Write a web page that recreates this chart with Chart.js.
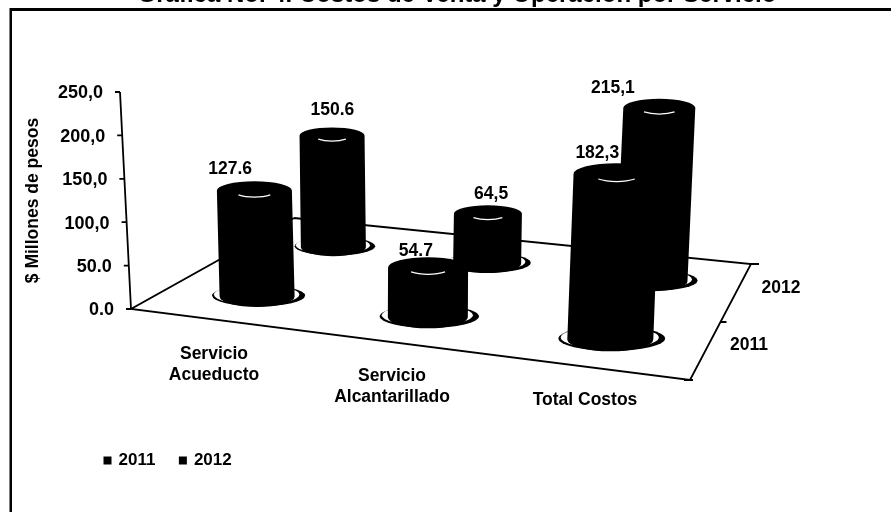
<!DOCTYPE html>
<html>
<head>
<meta charset="utf-8">
<style>html,body{margin:0;padding:0;background:#fff}canvas{display:block}</style>
<script src="https://cdn.jsdelivr.net/npm/chart.js@4"></script>
</head>
<body>
<div style="width:891px;height:512px"><canvas id="c" width="891" height="512"></canvas></div>
<script>
const categories = [['Servicio','Acueducto'],['Servicio','Alcantarillado'],'Total Costos'];
const values2011 = [127.6, 54.7, 182.3];
const values2012 = [150.6, 64.5, 215.1];
const valueText2011 = ['127.6','54.7','182,3'];
const valueText2012 = ['150.6','64,5','215,1'];
const seriesNames = ['2011','2012'];
const yTickLabels = ['0.0','50.0','100,0','150,0','200,0','250,0'];
const titleText = 'Gráfica No. 4. Costos de Venta y Operación por Servicio';
const yTitle = '$ Millones de pesos';

// projection of the 3D floor (layout only)
const floorFR = [559, 71], floorBR = [620, -45], floorBL = [163, -91];
const catU = [0.16, 0.48, 0.822], serV = [0.25, 0.77];
const depthScale = [[0.957, 1.054, 1.046], [0.854, 0.892, 0.93]];
const radii = [[37.5, 40, 43], [32.5, 34, 36]];
const axisLean = 11;
const labelShift = [[[-27,-21],[-12,-16],[-13,-21]], [[-1,-25],[4,-19.5],[-38.5,-20]]];
const xLabelPos = [[214,344],[392,366],[585,390]];
const depthLabelPos = [[749,345],[781,288]];
const FONT = '"Liberation Sans", Arial, sans-serif';

function floorPoint(area, zero, u, v) {
  const o = [area.left, zero];
  const fl = o, fr = [o[0]+floorFR[0], o[1]+floorFR[1]], br = [o[0]+floorBR[0], o[1]+floorBR[1]], bl = [o[0]+floorBL[0], o[1]+floorBL[1]];
  const fx = fl[0]+(fr[0]-fl[0])*u, fy = fl[1]+(fr[1]-fl[1])*u;
  const bx = bl[0]+(br[0]-bl[0])*u, by = bl[1]+(br[1]-bl[1])*u;
  return { x: fx+(bx-fx)*v, y: fy+(by-fy)*v };
}

function drawCylinder(ctx) {
  const rx = this.width/2, ry = rx*0.25, x = this.x, b = this.base, t = this.y;
  const lean = (x-400)*1.8e-4*(b-t);
  ctx.save();
  ctx.fillStyle = '#000';
  ctx.beginPath(); ctx.ellipse(x+1.5, b-1, rx*1.24, ry*1.15, 0, 0, Math.PI*2); ctx.fill();
  ctx.fillStyle = '#fff';
  ctx.beginPath(); ctx.ellipse(x-0.5, b-2, rx*1.14, ry*1.05, 0, 0, Math.PI*2); ctx.fill();
  ctx.fillStyle = '#000';
  ctx.beginPath();
  ctx.ellipse(x+lean, t, rx, ry, 0, Math.PI, Math.PI*2);
  ctx.lineTo(x+rx, b);
  ctx.ellipse(x, b, rx, ry*1.1, 0, 0, Math.PI);
  ctx.closePath();
  ctx.fill();
  ctx.strokeStyle = '#fff';
  ctx.lineWidth = 1.2;
  ctx.beginPath();
  ctx.ellipse(x+lean, t-1, rx*0.6, ry*0.8, 0, Math.PI*0.25, Math.PI*0.75);
  ctx.stroke();
  ctx.restore();
}

const sketch3d = {
  id: 'sketch3d',
  afterDatasetsUpdate(chart) {
    const area = chart.chartArea, ys = chart.scales.y, zero = ys.getPixelForValue(0);
    chart.data.datasets.forEach((ds, j) => {
      chart.getDatasetMeta(j).data.forEach((el, i) => {
        const h = (zero - ys.getPixelForValue(ds.data[i])) * depthScale[j][i];
        const p = floorPoint(area, zero, catU[i], serV[j]);
        el.x = p.x; el.base = p.y; el.y = p.y - h; el.width = radii[j][i]*2;
        el.draw = drawCylinder;
      });
    });
  },
  beforeDraw(chart) {
    const ctx = chart.ctx, ys = chart.scales.y, xs = chart.scales.x;
    ctx.save();
    ctx.fillStyle = '#000';
    ctx.fillRect(10, 8, 881, 3);
    ctx.fillRect(9.5, 8, 2.5, 504);
    ctx.restore();
    ys.getLabelItems().forEach((it, k) => {
      const v = ys.ticks[k].value;
      if (!it._moved) { it.options.translation[0] -= axisLean*v/250; it.options.translation[1] += 1.5; it._moved = true; }
    });
    xs.getLabelItems().forEach((it, k) => {
      it.options.translation = xLabelPos[k];
    });
    chart.legend.left = 105 - chart.legend.options.labels.padding;
  },
  beforeDatasetsDraw(chart) {
    const ctx = chart.ctx, ys = chart.scales.y, o = [chart.chartArea.left, ys.getPixelForValue(0)];
    ctx.save();
    ctx.strokeStyle = '#000'; ctx.lineWidth = 1.8;
    ctx.beginPath();
    ctx.moveTo(o[0]+floorBL[0], o[1]+floorBL[1]);
    ctx.lineTo(o[0], o[1]);
    ctx.lineTo(o[0]+floorFR[0], o[1]+floorFR[1]);
    ctx.lineTo(o[0]+floorBR[0], o[1]+floorBR[1]);
    ctx.lineTo(o[0]+floorBL[0], o[1]+floorBL[1]);
    ctx.stroke();
    ctx.beginPath();
    ctx.moveTo(o[0]+floorFR[0]-6, o[1]+floorFR[1]); ctx.lineTo(o[0]+floorFR[0]+3, o[1]+floorFR[1]);
    ctx.moveTo(o[0]+floorBR[0]-2, o[1]+floorBR[1]); ctx.lineTo(o[0]+floorBR[0]+8, o[1]+floorBR[1]);
    const mx = o[0]+(floorFR[0]+floorBR[0])/2, my = o[1]+(floorFR[1]+floorBR[1])/2;
    ctx.moveTo(mx, my); ctx.lineTo(mx+6, my);
    ctx.stroke();
    ctx.beginPath();
    ctx.moveTo(o[0]-axisLean, ys.getPixelForValue(250));
    ctx.lineTo(o[0], o[1]);
    ys.ticks.forEach(t => {
      const yy = ys.getPixelForValue(t.value), xx = o[0]-axisLean*t.value/250;
      ctx.moveTo(xx, yy); ctx.lineTo(xx-5, yy);
    });
    ctx.stroke();
    ctx.fillStyle = '#000';
    ctx.font = 'bold 17.5px ' + FONT;
    ctx.textAlign = 'center'; ctx.textBaseline = 'middle';
    seriesNames.forEach((s, j) => ctx.fillText(s, depthLabelPos[j][0], depthLabelPos[j][1]));
    ctx.restore();
  },
  afterDatasetsDraw(chart) {
    const ctx = chart.ctx;
    ctx.save();
    ctx.fillStyle = '#000';
    ctx.font = 'bold 17.5px ' + FONT;
    ctx.textAlign = 'center'; ctx.textBaseline = 'middle';
    [valueText2011, valueText2012].forEach((txt, j) => {
      chart.getDatasetMeta(j).data.forEach((el, i) => {
        ctx.fillText(txt[i], el.x + labelShift[j][i][0], el.y + labelShift[j][i][1]);
      });
    });
    ctx.restore();
  }
};

new Chart(document.getElementById('c'), {
  type: 'bar',
  data: {
    labels: categories,
    datasets: [
      { label: seriesNames[0], data: values2011, backgroundColor: '#000', clip: false },
      { label: seriesNames[1], data: values2012, backgroundColor: '#000', clip: false }
    ]
  },
  plugins: [sketch3d],
  options: {
    responsive: false,
    animation: false,
    events: [],
    layout: { padding: { left: 24, right: 1, top: 0, bottom: 33 } },
    plugins: {
      tooltip: { enabled: false },
      title: {
        display: true, text: titleText, color: '#000',
        font: { family: FONT, size: 24, weight: 'bold', lineHeight: 1.2 },
        padding: { top: -19.4, bottom: 82.6 }
      },
      legend: {
        position: 'bottom', align: 'start',
        labels: {
          color: '#000', usePointStyle: true, pointStyle: 'rect', boxWidth: 5, boxHeight: 8,
          padding: 25, font: { family: FONT, size: 17, weight: 'bold' }
        }
      }
    },
    scales: {
      x: {
        grid: { display: false, drawTicks: false }, border: { display: false },
        ticks: { autoSkip: false, maxRotation: 0, color: '#000', font: { family: FONT, size: 17.5, weight: 'bold', lineHeight: 1.2 } },
        afterFit(s) { s.height = 118; }
      },
      y: {
        min: 0, max: 250,
        grid: { display: false, drawTicks: false }, border: { display: false },
        title: { display: true, text: yTitle, color: '#000', padding: { top: 0, bottom: 0 }, font: { family: FONT, size: 17.5, weight: 'bold', lineHeight: 1 } },
        ticks: {
          stepSize: 50, autoSkip: false, padding: 17, color: '#000',
          font: { family: FONT, size: 18, weight: 'bold' },
          callback: (v, i) => yTickLabels[i]
        },
        afterFit(s) { s.width = 107; }
      }
    }
  }
});
</script>
</body>
</html>
